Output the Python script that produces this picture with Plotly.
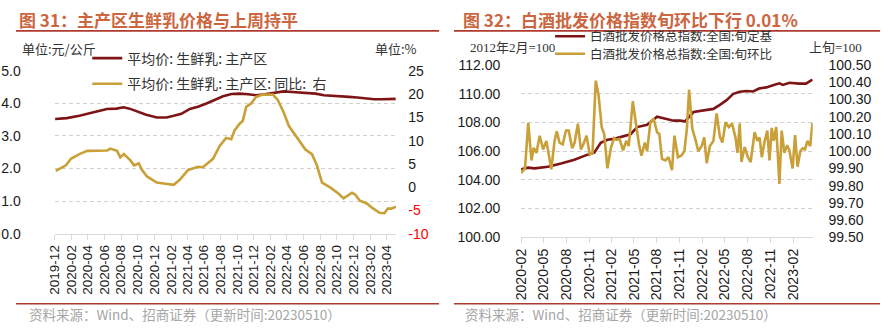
import plotly.graph_objects as go

W, H = 890, 336
def px(x): return x / W
def py(y): return 1 - y / H

# ---------------- Left chart data (图31) ----------------
milk_price_dates = ["2019-12-03","2020-01-15","2020-03-01","2020-04-15","2020-06-10","2020-07-15","2020-08-10",
    "2020-09-01","2020-10-10","2020-11-01","2020-12-10","2021-01-15","2021-02-10","2021-03-10","2021-04-10",
    "2021-05-10","2021-06-10","2021-07-10","2021-08-10","2021-09-10","2021-10-10","2021-11-10","2021-12-10",
    "2022-01-10","2022-02-10","2022-03-20","2022-04-20","2022-06-10","2022-07-15","2022-08-15","2022-09-15",
    "2022-10-15","2022-11-15","2022-12-15","2023-01-15","2023-02-15","2023-03-15","2023-04-15","2023-05-05"]
milk_price = [3.52,3.55,3.62,3.72,3.83,3.84,3.88,3.84,3.73,3.65,3.57,3.57,3.62,3.68,3.83,3.90,4.00,4.10,4.22,
    4.29,4.30,4.28,4.25,4.28,4.33,4.37,4.35,4.32,4.30,4.25,4.24,4.22,4.20,4.18,4.15,4.13,4.13,4.14,4.14]

milk_yoy_dates = ["2019-12-05","2020-01-12","2020-01-30","2020-03-01","2020-03-30","2020-05-05","2020-06-11",
    "2020-06-23","2020-07-17","2020-07-29","2020-08-11","2020-09-05","2020-09-17","2020-10-05","2020-10-17",
    "2020-11-04","2020-12-10","2021-01-04","2021-02-10","2021-03-04","2021-04-04","2021-05-10","2021-05-28",
    "2021-07-04","2021-07-28","2021-08-21","2021-09-09","2021-09-21","2021-10-09","2021-10-21","2021-11-03",
    "2021-11-21","2021-12-09","2022-01-03","2022-02-09","2022-02-27","2022-03-21","2022-04-08","2022-05-02",
    "2022-06-08","2022-07-02","2022-07-20","2022-08-08","2022-09-08","2022-10-08","2022-10-26","2022-11-26",
    "2022-12-08","2022-12-25","2023-01-19","2023-02-07","2023-03-07","2023-03-25","2023-04-06","2023-04-19",
    "2023-05-06"]
milk_yoy = [3.5,4.7,6.1,7.1,7.8,7.8,7.9,8.3,7.8,6.4,7.1,5.7,4.7,5.1,3.7,2.3,1.0,0.8,0.5,1.6,3.7,4.4,4.3,
    6.1,8.8,10.6,10.3,12.2,13.6,14.2,17.3,18.0,19.4,19.9,19.9,18.7,16.0,13.2,11.2,8.1,7.1,4.7,1.0,-0.1,
    -1.4,-2.4,-1.2,-1.6,-2.9,-3.5,-4.4,-5.5,-5.6,-4.6,-4.6,-4.2]

left_yoy_ticks = [-10, -5, 0, 5, 10, 15, 20, 25]

# ---------------- Right chart data (图32) ----------------
baijiu_base_dates = ["2020-02-01","2020-03-01","2020-03-27","2020-05-19","2020-07-11","2020-09-03","2020-10-26",
    "2020-11-22","2020-12-18","2021-01-14","2021-02-10","2021-03-22","2021-04-17","2021-05-14","2021-06-23",
    "2021-08-02","2021-08-29","2021-10-08","2021-11-03","2021-11-23","2021-12-27","2022-02-18","2022-03-17",
    "2022-04-12","2022-05-09","2022-06-05","2022-07-01","2022-07-28","2022-08-24","2022-09-19","2022-10-16",
    "2022-11-12","2022-12-08","2022-12-22","2023-01-17","2023-02-26","2023-03-25","2023-04-20"]
baijiu_base = [104.74,104.85,104.80,104.92,105.14,105.40,105.76,105.90,106.58,106.80,106.86,107.07,107.18,
    107.68,107.84,108.41,108.28,108.13,108.13,108.08,108.73,108.86,108.95,109.23,109.56,110.00,110.15,110.20,
    110.16,110.38,110.45,110.60,110.73,110.62,110.77,110.71,110.71,111.00]

baijiu_mom_dates = ["2020-02-01","2020-02-17","2020-03-01","2020-03-14","2020-03-23","2020-04-03","2020-04-16",
    "2020-04-30","2020-05-13","2020-05-20","2020-06-02","2020-06-15","2020-06-24","2020-07-05","2020-07-18",
    "2020-07-31","2020-08-11","2020-08-25","2020-09-04","2020-09-17","2020-09-29","2020-10-09","2020-10-22",
    "2020-11-04","2020-11-15","2020-11-28","2020-12-09","2020-12-22","2021-01-01","2021-01-14","2021-01-28",
    "2021-02-10","2021-02-19","2021-03-04","2021-03-18","2021-03-31","2021-04-10","2021-04-26","2021-05-10",
    "2021-05-21","2021-05-31","2021-06-14","2021-06-23","2021-07-06","2021-07-19","2021-08-02","2021-08-11",
    "2021-08-22","2021-09-04","2021-09-17","2021-10-01","2021-10-11","2021-10-25","2021-11-07","2021-11-20",
    "2021-11-30","2021-12-09","2021-12-22","2022-01-05","2022-01-15","2022-01-29","2022-02-08","2022-02-18",
    "2022-03-03","2022-03-17","2022-03-30","2022-04-12","2022-04-22","2022-05-05","2022-05-18","2022-05-31",
    "2022-06-14","2022-06-22","2022-07-01","2022-07-08","2022-07-21","2022-08-03","2022-08-14","2022-08-30",
    "2022-09-10","2022-09-19","2022-09-28","2022-10-09","2022-10-20","2022-10-29","2022-11-07","2022-11-15",
    "2022-11-25","2022-12-01","2022-12-08","2022-12-17","2022-12-28","2023-01-08","2023-01-17","2023-01-30",
    "2023-02-09","2023-02-19","2023-03-02","2023-03-11","2023-03-21","2023-03-31","2023-04-11","2023-04-20"]
baijiu_mom = [99.873,99.90,100.164,99.946,100.02,99.99,100.09,100.01,100.06,100.0,99.895,100.06,100.116,100.05,
    100.04,100.12,100.12,100.017,100.05,100.16,100.01,100.04,100.09,99.98,99.99,100.41,100.33,100.14,100.10,
    99.90,100.02,100.076,100.066,100.07,100.005,100.06,100.03,100.29,100.15,100.04,99.974,100.05,100.0,100.168,
    100.19,100.11,100.10,99.955,99.946,99.965,99.89,100.09,99.965,99.974,100.0,100.13,100.356,100.13,100.06,
    100.0,100.03,100.08,99.93,100.03,100.06,100.22,100.085,100.05,100.168,100.14,100.16,100.08,99.99,100.16,
    99.937,100.024,99.965,99.937,100.11,100.06,100.08,99.965,100.055,100.12,99.946,100.135,100.06,100.14,
    99.99,99.81,100.12,99.99,100.035,100.005,99.90,100.094,99.91,100.0,100.017,100.01,100.06,100.03,100.164]

RED = "#7F1416"
GOLD = "#C9A038"
TITLE_C = "#CC6640"
RULE_C = "#B03A2E"
NUM_FONT = "Liberation Sans, Arial, sans-serif"
CJK_FONT = "Noto Sans CJK SC, sans-serif"
GRID_C = "#D0D0D0"

fig = go.Figure()
fig.add_trace(go.Scatter(x=milk_price_dates, y=milk_price, mode="lines", name="平均价: 生鲜乳: 主产区",
                         line=dict(color=RED, width=2.6), xaxis="x", yaxis="y", legend="legend"))
fig.add_trace(go.Scatter(x=milk_yoy_dates, y=milk_yoy, mode="lines", name="平均价: 生鲜乳: 主产区: 同比:  右",
                         line=dict(color=GOLD, width=2.6), xaxis="x", yaxis="y2", legend="legend2"))
fig.add_trace(go.Scatter(x=baijiu_base_dates, y=baijiu_base, mode="lines", name="白酒批发价格总指数:全国:旬定基",
                         line=dict(color=RED, width=2.6), xaxis="x3", yaxis="y3", legend="legend3"))
fig.add_trace(go.Scatter(x=baijiu_mom_dates, y=baijiu_mom, mode="lines", name="白酒批发价格总指数:全国:旬环比",
                         line=dict(color=GOLD, width=2.6), xaxis="x3", yaxis="y4", legend="legend4"))

tickfont = dict(family=NUM_FONT, size=14, color="#1a1a1a")
yoy_text = [f'<span style="color:#FF0000">{v}</span>' if v < 0 else str(v) for v in left_yoy_ticks]

def leg(x, y, size):
    return dict(x=px(x), y=py(y), xanchor="left", yanchor="middle", bgcolor="rgba(0,0,0,0)", borderwidth=0,
                font=dict(family=CJK_FONT, size=size, color="#333333"), itemwidth=30)

fig.update_layout(
    width=W, height=H, margin=dict(l=0, r=0, t=0, b=0),
    paper_bgcolor="white", plot_bgcolor="white",
    xaxis=dict(domain=[px(47), px(392)], anchor="y", type="date",
               range=["2019-12-01", "2023-05-08"], tick0="2019-12-01", dtick="M2", tickformat="%Y-%m",
               tickangle=-90, tickfont=dict(family=NUM_FONT, size=13.5, color="#1a1a1a"),
               showline=True, linecolor="#D9D9D9", linewidth=1, ticks="outside", ticklen=5,
               tickcolor="#D9D9D9", showgrid=False, zeroline=False),
    yaxis=dict(domain=[py(237), py(66)], anchor="x", range=[0, 5], dtick=1, tickformat=".1f",
               tickfont=tickfont, showgrid=True, gridcolor=GRID_C, griddash="4px,3px",
               zeroline=False, showline=False, ticks="outside", ticklen=30, tickcolor="rgba(0,0,0,0)"),
    yaxis2=dict(overlaying="y", side="right", anchor="x", range=[-10, 25], tickvals=left_yoy_ticks,
                ticktext=yoy_text, tickfont=tickfont, showgrid=False, zeroline=False, showline=False,
                ticks="outside", ticklen=8, tickcolor="rgba(0,0,0,0)"),
    xaxis3=dict(domain=[px(517.7), px(812)], anchor="y3", type="date",
                range=["2020-02-01", "2023-04-21"], tick0="2020-02-01", dtick="M3", tickformat="%Y-%m",
                tickangle=-90, tickfont=dict(family=NUM_FONT, size=14, color="#1a1a1a"),
                showline=True, linecolor="#D9D9D9", linewidth=1, ticks="outside", ticklen=5,
                tickcolor="#D9D9D9", showgrid=False, zeroline=False),
    yaxis3=dict(domain=[py(240.7), py(60)], anchor="x3", range=[100, 112], dtick=2, tickformat=".2f",
                tickfont=tickfont, showgrid=True, gridcolor=GRID_C, griddash="4px,3px",
                zeroline=False, showline=False, ticks="outside", ticklen=17, tickcolor="rgba(0,0,0,0)"),
    yaxis4=dict(overlaying="y3", side="right", anchor="x3", range=[99.5, 100.5], dtick=0.1, tickformat=".2f",
                tickfont=tickfont, showgrid=False, zeroline=False, showline=False,
                ticks="outside", ticklen=12, tickcolor="rgba(0,0,0,0)"),
    legend=leg(80, 53, 14),
    legend2=leg(80, 80, 14),
    legend3=leg(547, 30, 12.5),
    legend4=leg(547, 48.5, 12.5),
    showlegend=True,
)

# Titles, units, notes
ann = [
    dict(text="<b>图 31：主产区生鲜乳价格与上周持平</b>", x=px(9), y=py(12.5), xanchor="left", yanchor="middle",
         font=dict(family=CJK_FONT, size=17, color=TITLE_C)),
    dict(text="<b>图 32：白酒批发价格指数旬环比下行 0.01%</b>", x=px(457), y=py(12.5), xanchor="left", yanchor="middle",
         font=dict(family=CJK_FONT, size=17, color=TITLE_C)),
    dict(text="单位:元/公斤", x=px(12), y=py(42), xanchor="left", yanchor="middle",
         font=dict(family=CJK_FONT, size=13, color="#333333")),
    dict(text="单位:%", x=px(368), y=py(42), xanchor="left", yanchor="middle",
         font=dict(family=CJK_FONT, size=13, color="#333333")),
    dict(text="2012年2月=100", x=px(464), y=py(41), xanchor="left", yanchor="middle",
         font=dict(family="Liberation Serif, " + CJK_FONT, size=13, color="#333333")),
    dict(text="上旬=100", x=px(806), y=py(41), xanchor="left", yanchor="middle",
         font=dict(family="Liberation Serif, " + CJK_FONT, size=13, color="#333333")),
    dict(text="资料来源：Wind、招商证券（更新时间:20230510）", x=px(19), y=py(321), xanchor="left", yanchor="middle",
         font=dict(family=CJK_FONT, size=13.5, color="#A6A6A6")),
    dict(text="资料来源：Wind、招商证券（更新时间:20230510）", x=px(459), y=py(321), xanchor="left", yanchor="middle",
         font=dict(family=CJK_FONT, size=13.5, color="#A6A6A6")),
]
for a in ann:
    a.update(xref="paper", yref="paper", showarrow=False)
fig.update_layout(annotations=ann)

shapes = []
for (x0, x1) in [(8, 435), (450, 880)]:
    shapes.append(dict(type="line", xref="paper", yref="paper", x0=px(x0), x1=px(x1), y0=py(24), y1=py(24),
                       line=dict(color=RULE_C, width=1.6)))
    shapes.append(dict(type="line", xref="paper", yref="paper", x0=px(x0), x1=px(x1), y0=py(310.5), y1=py(310.5),
                       line=dict(color=RULE_C, width=1.6)))
fig.update_layout(shapes=shapes)

fig.write_html("out.html")
